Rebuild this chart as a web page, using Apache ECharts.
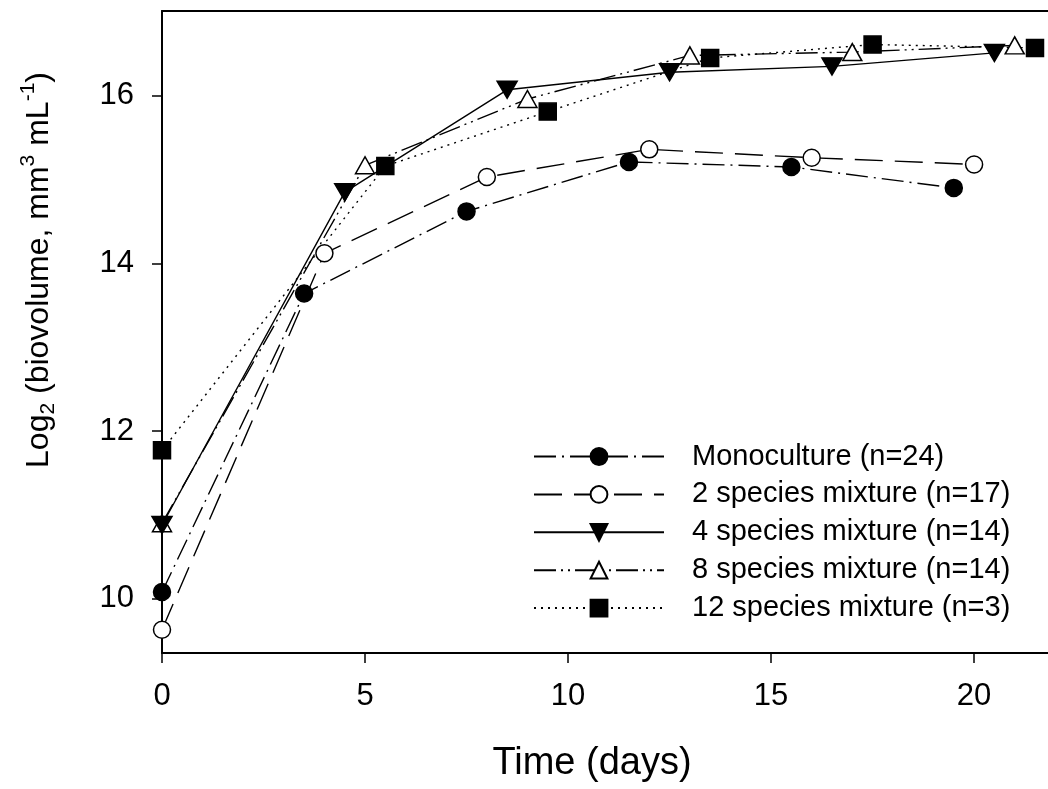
<!DOCTYPE html>
<html>
<head>
<meta charset="utf-8">
<script src="https://cdn.jsdelivr.net/npm/echarts@6/dist/echarts.min.js"></script>
<style>
html,body{margin:0;padding:0;background:#fff;}
#chart{width:1048px;height:789px;}
</style>
</head>
<body>
<div id="chart"></div>
<script>
// ---- data ----
const seriesNames = [
  'Monoculture (n=24)',
  '2 species mixture (n=17)',
  '4 species mixture (n=14)',
  '8 species mixture (n=14)',
  '12 species mixture (n=3)'
];
const monoT = [0, 3.5, 7.5, 11.5, 15.5, 19.5];
const monoV = [10.08, 13.64, 14.62, 15.21, 15.15, 14.90];
const sp2T = [0, 4, 8, 12, 16, 20];
const sp2V = [9.63, 14.12, 15.03, 15.36, 15.26, 15.18];
const sp4T = [0, 4.5, 8.5, 12.5, 16.5, 20.5];
const sp4V = [10.88, 14.85, 16.07, 16.28, 16.35, 16.51];
const sp8T = [0, 5, 9, 13, 17, 21];
const sp8V = [10.90, 15.17, 15.96, 16.48, 16.52, 16.60];
const sp12T = [0, 5.5, 9.5, 13.5, 17.5, 21.5];
const sp12V = [11.77, 15.16, 15.81, 16.45, 16.61, 16.57];
const xTicks = [0, 5, 10, 15, 20];
const yTicks = [10, 12, 14, 16];

function pairs(t, v) { return t.map((x, i) => [x, v[i]]); }

const FONT = '"Liberation Sans", Arial, sans-serif';

function mk(name, t, v, symbol, size, fill, dash, rotate) {
  return {
    name: name,
    type: 'line',
    data: pairs(t, v),
    symbol: symbol,
    symbolSize: size,
    symbolRotate: rotate || 0,
    showAllSymbol: true,
    color: '#000',
    lineStyle: { color: '#000', width: 1.4, type: dash },
    itemStyle: { color: fill, borderColor: '#000', borderWidth: 1.5, opacity: 1 },
    emphasis: { disabled: true },
    silent: true
  };
}

const chart = echarts.init(document.getElementById('chart'), null, { renderer: 'canvas' });
chart.setOption({
  animation: false,
  backgroundColor: '#fff',
  textStyle: { fontFamily: FONT, color: '#000' },
  grid: { left: 162, top: 11, right: 0, bottom: 136 },
  legend: {
    orient: 'vertical',
    left: 528,
    top: 437,
    itemWidth: 130,
    itemHeight: 21,
    itemGap: 8.9,
    selectedMode: false,
    textStyle: { fontSize: 29, fontFamily: FONT, color: '#000', lineHeight: 21, padding: [0, 0, 0, 23] },
    data: seriesNames
  },
  xAxis: [{
    type: 'value',
    min: 0,
    max: 21.82,
    position: 'bottom',
    splitLine: { show: false },
    axisLine: { show: true, onZero: false, lineStyle: { color: '#000', width: 2 } },
    axisTick: { show: true, length: 10, lineStyle: { color: '#000', width: 1.5 }, customValues: xTicks },
    axisLabel: { fontSize: 31, fontFamily: FONT, color: '#000', margin: 28, customValues: xTicks },
    name: 'Time (days)',
    nameLocation: 'middle',
    nameGap: 92,
    nameTextStyle: { fontSize: 38, fontFamily: FONT, color: '#000', padding: [0, 26, 0, 0] }
  }, {
    type: 'value',
    min: 0,
    max: 21.82,
    position: 'top',
    splitLine: { show: false },
    axisLine: { show: true, onZero: false, lineStyle: { color: '#000', width: 2 } },
    axisTick: { show: false },
    axisLabel: { show: false }
  }],
  yAxis: {
    type: 'value',
    min: 9.353,
    max: 17.01,
    splitLine: { show: false },
    axisLine: { show: true, onZero: false, lineStyle: { color: '#000', width: 2 } },
    axisTick: { show: true, length: 10, lineStyle: { color: '#000', width: 1.5 }, customValues: yTicks },
    axisLabel: { fontSize: 31, fontFamily: FONT, color: '#000', margin: 28, customValues: yTicks },
    name: '{n|Log}{sub|2}{n| (biovolume, mm}{sup|3}{n| mL}{sup|-1}{n|)}',
    nameLocation: 'middle',
    nameGap: 101,
    nameRotate: 90,
    nameTextStyle: {
      fontFamily: FONT, color: '#000', fontSize: 32,
      padding: [0, 0, 0, 124],
      rich: {
        n: { fontSize: 32, fontFamily: FONT, color: '#000' },
        sub: { fontSize: 21, fontFamily: FONT, color: '#000', padding: [18, 0, 0, 0] },
        sup: { fontSize: 21, fontFamily: FONT, color: '#000', padding: [0, 0, 22, 0] }
      }
    }
  },
  series: [
    mk(seriesNames[4], sp12T, sp12V, 'rect', 17, '#000', [2, 5]),
    mk(seriesNames[3], sp8T, sp8V, 'triangle', [19, 17], '#fff', [22, 5, 2, 5, 2, 5]),
    mk(seriesNames[2], sp4T, sp4V, 'triangle', [20, 17], '#000', 'solid', 180),
    mk(seriesNames[1], sp2T, sp2V, 'circle', 17, '#fff', [28, 12]),
    mk(seriesNames[0], monoT, monoV, 'circle', 17, '#000', [22, 6, 2, 6])
  ]
});
</script>
</body>
</html>
